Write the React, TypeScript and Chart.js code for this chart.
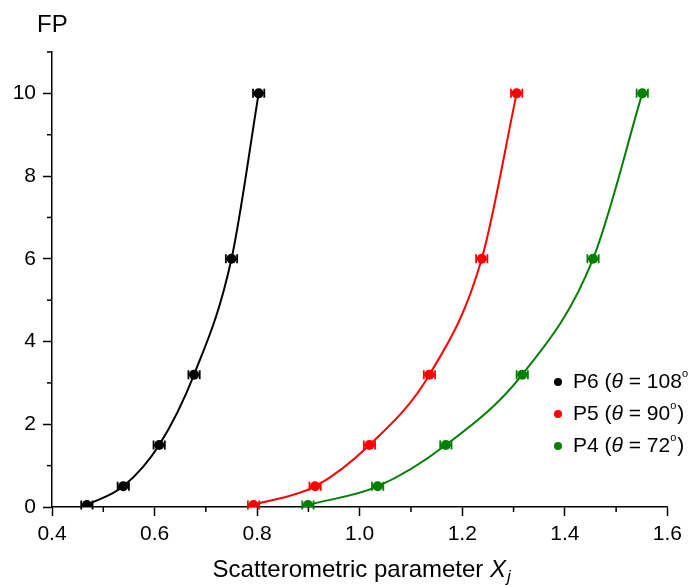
import React, { useEffect, useRef } from "react";
import { Chart, registerables } from "chart.js";

Chart.register(...registerables);

const fpValues = [0.05, 0.5, 1.5, 3.2, 6, 10];
const p6X = [0.468, 0.539, 0.609, 0.677, 0.75, 0.803];
const p5X = [0.793, 0.913, 1.019, 1.136, 1.238, 1.306];
const p4X = [0.899, 1.035, 1.168, 1.317, 1.455, 1.551];
const xErr = [0.011, 0.011, 0.011, 0.011, 0.011, 0.011];

const seriesNames = ["P6", "P5", "P4"];
const thetaLabels = ["108", "90", "72"];
const seriesColors = ["#000000", "#ff0000", "#008000"];
const seriesX = [p6X, p5X, p4X];

const xTickMin = 0.4;
const xTickMax = 1.6;
const yTickMin = 0;
const yTickMax = 11;

const FONT = '"Liberation Sans", Arial, Helvetica, sans-serif';

const errorBarPlugin = {
  id: "errorBars",
  beforeDatasetsDraw(chart: any) {
    const { ctx, scales } = chart;
    const xs = scales.x;
    const ys = scales.y;
    ctx.save();
    chart.data.datasets.forEach((ds: any, i: number) => {
      ctx.strokeStyle = seriesColors[i];
      ctx.lineWidth = 1.8;
      ds.data.forEach((p: any, j: number) => {
        const e = xErr[j];
        const x1 = xs.getPixelForValue(p.x - e);
        const x2 = xs.getPixelForValue(p.x + e);
        const y = ys.getPixelForValue(p.y);
        ctx.beginPath();
        ctx.moveTo(x1, y);
        ctx.lineTo(x2, y);
        ctx.moveTo(x1, y - 4.5);
        ctx.lineTo(x1, y + 4.5);
        ctx.moveTo(x2, y - 4.5);
        ctx.lineTo(x2, y + 4.5);
        ctx.stroke();
      });
    });
    ctx.restore();
  },
};

const decorPlugin = {
  id: "decor",
  afterDraw(chart: any) {
    const { ctx, scales, chartArea } = chart;
    const xs = scales.x;
    const ys = scales.y;
    ctx.save();
    // minor ticks
    ctx.strokeStyle = "#000";
    ctx.lineWidth = 1.5;
    xs.ticks.forEach((t: any) => {
      const v = Math.round(t.value * 10);
      if (v % 2 !== 0) {
        const px = xs.getPixelForValue(t.value);
        ctx.beginPath();
        ctx.moveTo(px, chartArea.bottom);
        ctx.lineTo(px, chartArea.bottom + 5);
        ctx.stroke();
      }
    });
    ys.ticks.forEach((t: any) => {
      const v = Math.round(t.value);
      if (v % 2 !== 0) {
        const py = ys.getPixelForValue(t.value);
        ctx.beginPath();
        ctx.moveTo(chartArea.left, py);
        ctx.lineTo(chartArea.left - 5, py);
        ctx.stroke();
      }
    });

    // y axis title
    ctx.fillStyle = "#000";
    ctx.font = `24px ${FONT}`;
    ctx.textBaseline = "alphabetic";
    ctx.textAlign = "left";
    ctx.fillText("FP", 37, 32);

    // x axis title
    const sizeT = 24;
    const part1 = "Scatterometric parameter ";
    ctx.font = `${sizeT}px ${FONT}`;
    const w1 = ctx.measureText(part1).width;
    ctx.font = `italic ${sizeT}px ${FONT}`;
    const w2 = ctx.measureText("X").width;
    ctx.font = `italic ${Math.round(sizeT * 0.7)}px ${FONT}`;
    const w3 = ctx.measureText("j").width;
    const total = w1 + w2 + w3 + 1;
    const cx = (chartArea.left + chartArea.right) / 2;
    let x0 = cx - total / 2 + 2;
    const by = 577;
    ctx.font = `${sizeT}px ${FONT}`;
    ctx.fillText(part1, x0, by);
    x0 += w1;
    ctx.font = `italic ${sizeT}px ${FONT}`;
    ctx.fillText("X", x0, by);
    x0 += w2 + 1;
    ctx.font = `italic ${Math.round(sizeT * 0.7)}px ${FONT}`;
    ctx.fillText("j", x0, by + 5);

    // legend
    const legX = 558;
    const legY = [382, 414, 446];
    const fs = 21;
    seriesNames.forEach((name, i) => {
      const y = legY[i];
      ctx.fillStyle = seriesColors[i];
      ctx.beginPath();
      ctx.arc(legX, y, 4, 0, Math.PI * 2);
      ctx.fill();
      ctx.fillStyle = "#000";
      ctx.textBaseline = "middle";
      let x = legX + 15;
      const parts: [string, string, number][] = [
        [name + " (", "normal", 0],
        ["θ", "italic", 0],
        [" = " + thetaLabels[i], "normal", 0],
        ["o", "small", -8],
        [")", "normal", 0],
      ];
      parts.forEach(([txt, style, dy]) => {
        if (style === "italic") ctx.font = `italic ${fs}px ${FONT}`;
        else if (style === "small") ctx.font = `${Math.round(fs * 0.5)}px ${FONT}`;
        else ctx.font = `${fs}px ${FONT}`;
        ctx.fillText(txt, x, y + dy);
        x += ctx.measureText(txt).width + (style === "small" ? 1 : 0);
      });
    });
    ctx.restore();
  },
};

export default function App() {
  const canvasRef = useRef<HTMLCanvasElement | null>(null);

  useEffect(() => {
    if (!canvasRef.current) return;
    const datasets = seriesNames.map((name, i) => ({
      label: name,
      data: seriesX[i].map((x, j) => ({ x, y: fpValues[j] })),
      showLine: true,
      cubicInterpolationMode: "monotone" as const,
      borderColor: seriesColors[i],
      backgroundColor: seriesColors[i],
      borderWidth: 2,
      pointRadius: 5,
      pointHoverRadius: 5,
      pointBorderWidth: 0,
    }));
    const chart = new Chart(canvasRef.current, {
      type: "scatter",
      data: { datasets },
      plugins: [errorBarPlugin, decorPlugin],
      options: {
        animation: false,
        responsive: false,
        maintainAspectRatio: false,
        layout: { padding: { left: 0, right: 16, top: 52, bottom: 0 } },
        plugins: {
          legend: { display: false },
          tooltip: { enabled: false },
          title: { display: false },
        },
        scales: {
          x: {
            type: "linear",
            min: xTickMin,
            max: xTickMax,
            afterFit: (s: any) => {
              s.height = 79;
            },
            border: { display: true, color: "#000", width: 1.5 },
            grid: {
              display: true,
              drawOnChartArea: false,
              drawTicks: true,
              tickLength: 9,
              tickWidth: 1.5,
              tickColor: (c: any) =>
                Math.round(c.tick.value * 10) % 2 === 0 ? "#000" : "rgba(0,0,0,0)",
            },
            ticks: {
              stepSize: 0.1,
              autoSkip: false,
              maxRotation: 0,
              padding: 6,
              color: "#000",
              font: { family: FONT, size: 21 },
              callback: (v: any) => {
                const n = Math.round(Number(v) * 10);
                return n % 2 === 0 ? (n / 10).toFixed(1) : "";
              },
            },
          },
          y: {
            type: "linear",
            min: yTickMin,
            max: yTickMax,
            afterFit: (s: any) => {
              s.width = 52;
            },
            border: { display: true, color: "#000", width: 1.5 },
            grid: {
              display: true,
              drawOnChartArea: false,
              drawTicks: true,
              tickLength: 9,
              tickWidth: 1.5,
              tickColor: (c: any) =>
                Math.round(c.tick.value) % 2 === 0 ? "#000" : "rgba(0,0,0,0)",
            },
            ticks: {
              stepSize: 1,
              autoSkip: false,
              padding: 7,
              color: "#000",
              font: { family: FONT, size: 21 },
              callback: (v: any) => {
                const n = Math.round(Number(v));
                return n % 2 === 0 ? String(n) : "";
              },
            },
          },
        },
      },
    });
    return () => chart.destroy();
  }, []);

  return (
    <div style={{ position: "absolute", left: 0, top: 0, width: 688, height: 586, background: "#fff" }}>
      <canvas ref={canvasRef} width={688} height={586} style={{ width: 688, height: 586 }} />
    </div>
  );
}
